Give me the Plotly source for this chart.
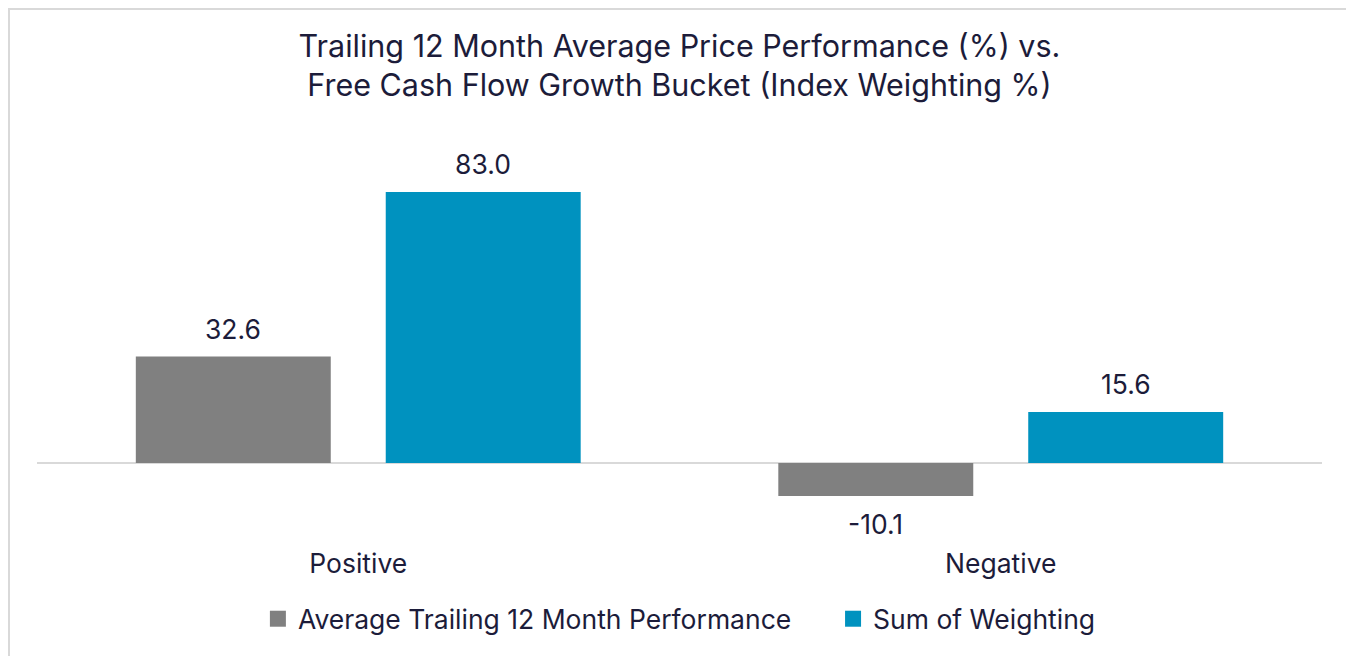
import plotly.graph_objects as go

categories = ["Positive", "Negative"]
avg_perf = [32.6, -10.1]
sum_weight = [83.0, 15.6]
series_names = ["Average Trailing 12 Month Performance", "Sum of Weighting"]
series_colors = ["#808080", "#0092bf"]

FONT = "Inter"
TXT = "#1c1c3a"
FS = 26.5

fig = go.Figure()
for name, vals, col in zip(series_names, [avg_perf, sum_weight], series_colors):
    fig.add_trace(go.Bar(x=categories, y=vals, name=name, showlegend=False,
                         marker=dict(color=col, line=dict(width=0))))

# legend entries (square swatches), one legend per series so each can be placed
for i, (name, col) in enumerate(zip(series_names, series_colors)):
    fig.add_trace(go.Scatter(x=[None], y=[None], mode="markers", name=name,
                             legend="legend" if i == 0 else "legend2",
                             marker=dict(symbol="square", size=16, color=col)))

# data labels placed at each bar's end (offset to its group slot)
annotations = []
for shift, vals in zip([-125, 125], [avg_perf, sum_weight]):
    for cat, v in zip(categories, vals):
        annotations.append(dict(
            x=cat, y=v, xref="x", yref="y", text=f"{v:.1f}", showarrow=False,
            xshift=shift, yshift=10 if v >= 0 else -10,
            yanchor="bottom" if v >= 0 else "top",
            font=dict(size=FS, color=TXT, family=FONT),
        ))

leg_common = dict(orientation="h", xanchor="left", y=-0.1827, yanchor="middle",
                  font=dict(size=FS, color=TXT, family=FONT), bgcolor="rgba(0,0,0,0)")

fig.update_layout(
    width=1354, height=656,
    margin=dict(l=29, r=40, t=132, b=119),
    paper_bgcolor="white", plot_bgcolor="white",
    barmode="group", bargap=0.222, bargroupgap=0.22,
    font=dict(family=FONT, color=TXT, size=FS),
    title=dict(
        text="Trailing 12 Month Average Price Performance (%) vs.<br>Free Cash Flow Growth Bucket (Index Weighting %)",
        x=0.5, xanchor="center", xref="paper", y=0.926, yanchor="middle",
        font=dict(size=30.5, color=TXT, family=FONT),
    ),
    legend=dict(x=0.1719, **leg_common),
    legend2=dict(x=0.6195, **leg_common),
    annotations=annotations,
    xaxis=dict(showgrid=False, showline=False, ticks="", tickfont=dict(size=FS, color=TXT)),
    yaxis=dict(range=[-25.11, 98.93], showgrid=False, showticklabels=False,
               zeroline=True, zerolinecolor="#d9d9d9", zerolinewidth=2, showline=False),
    shapes=[dict(type="rect", xref="paper", yref="paper",
                 x0=-0.0218, x1=1.0226, y0=-0.45, y1=1.3235,
                 line=dict(color="#d9d9d9", width=2), fillcolor="rgba(0,0,0,0)", layer="below")],
)

fig.write_html("out.html")
